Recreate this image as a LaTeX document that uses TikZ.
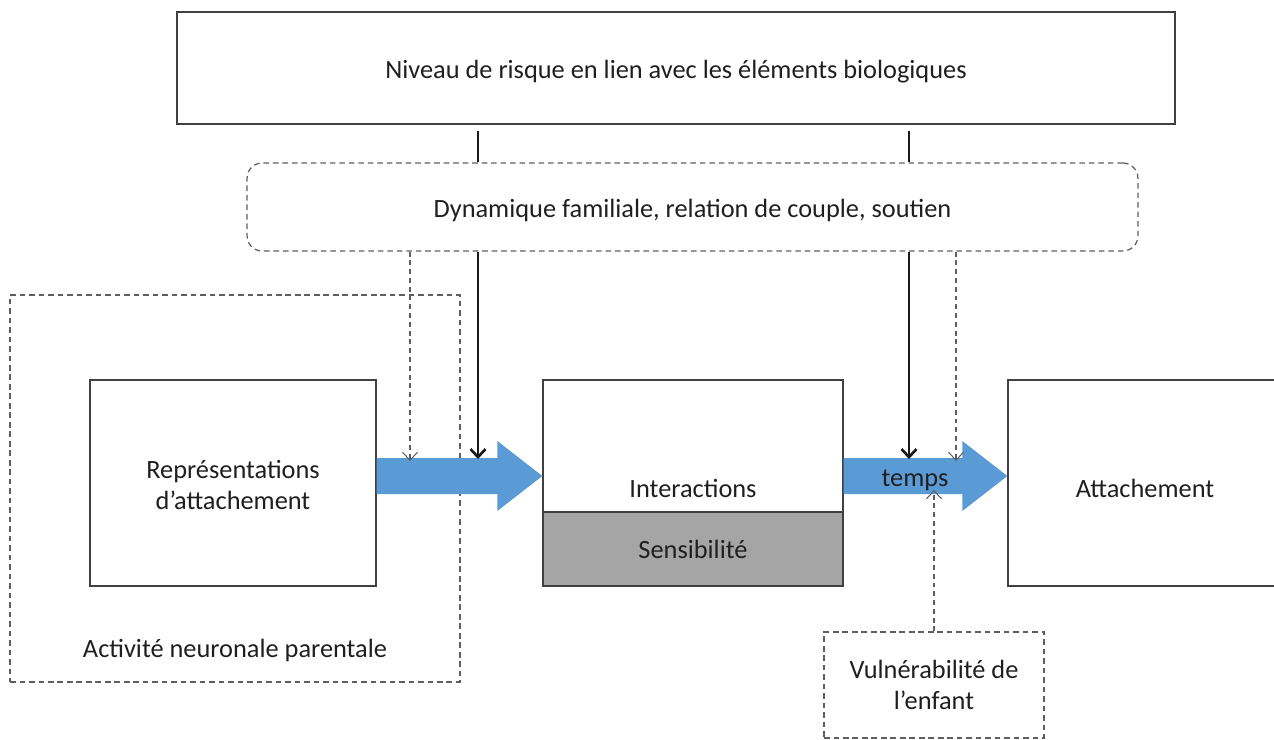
\documentclass[tikz,border=0pt]{standalone}
\usepackage{fontspec}
\setmainfont{Carlito}
\usetikzlibrary{arrows.meta,calc}

\definecolor{arrowblue}{RGB}{91,155,213}
\definecolor{boxgray}{RGB}{165,165,165}
\definecolor{edgegray}{RGB}{64,64,64}
\definecolor{dashgray}{RGB}{95,95,95}

% wide blue arrow from #1 to #2 (same height)
\newcommand{\blockarrow}[2]{%
  \fill[arrowblue] ($(#1)+(0,-18)$) -- ($(#2)+(-45,-18)$) -- ($(#2)+(-45,-35)$)
    -- (#2) -- ($(#2)+(-45,35)$) -- ($(#2)+(-45,18)$) -- ($(#1)+(0,18)$) -- cycle;}

\begin{document}
\begin{tikzpicture}[x=0.02cm,y=-0.02cm,
    every node/.style={font=\fontsize{15}{17.5}\selectfont, text=black!88},
    box/.style={draw=edgegray, line width=0.8pt, fill=white},
    dbox/.style={draw=dashgray, line width=0.7pt, dash pattern=on 3.2pt off 2.2pt},
    lowtext/.style={text height=16pt, text depth=3.5pt},
    link/.style={line width=1.5pt, black!90},
    dlink/.style={line width=0.6pt, dashgray, dash pattern=on 2.8pt off 2.2pt},
    >={Straight Barb[length=0.16cm, width=0.3cm]}]
  \useasboundingbox (0,0) rectangle (1274,740);
  \clip (0,0) rectangle (1274,740);

  % Boxes
  \node[box, lowtext, minimum width=19.96cm, minimum height=2.24cm] (risk) at (676,68)
    {Niveau de risque en lien avec les éléments biologiques};
  \node[dbox, lowtext, rounded corners=0.3cm, minimum width=17.82cm, minimum height=1.76cm] (fam) at (692.5,207)
    {Dynamique familiale, relation de couple, soutien};
  \node[dbox, minimum width=9cm, minimum height=7.74cm] (neuro) at (235,488.5) {};
  \node (neurotxt) at (235,650) {Activité neuronale parentale};
  \node[box, minimum width=5.72cm, minimum height=4.12cm] (rep) at (233,483) {};
  \node[align=center] (reptxt) at (233,485) {Représentations\\d’attachement};
  \node[box, minimum width=6cm, minimum height=4.12cm] (inter) at (693,483) {};
  \node (intertxt) at (693,488) {Interactions};
  \node[box, fill=boxgray, minimum width=6cm, minimum height=1.48cm] (sensi) at (693,549) {Sensibilité};
  \node[box, minimum width=5.48cm, minimum height=4.12cm] (att) at (1145,483) {};
  \node (atttxt) at (1145,488) {Attachement};
  \node[dbox, minimum width=4.4cm, minimum height=2.12cm, align=center] (vul) at (934,685)
    {Vulnérabilité de\\l’enfant};

  % Blue arrows
  \coordinate (a1s) at ($(rep.east)+(0,-7)$);
  \coordinate (a1e) at ($(inter.west)+(0,-7)$);
  \coordinate (a2s) at ($(inter.east)+(0,-7)$);
  \coordinate (a2e) at ($(att.west)+(0,-7)$);
  \blockarrow{a1s}{a1e}
  \blockarrow{a2s}{a2e}
  \node (tps) at (915,480) {temps};

  % Tips of the influences
  \coordinate (tl) at (478,459);
  \coordinate (tr) at (909,459);
  \coordinate (dl) at (410,461);
  \coordinate (dr) at (956,461);
  \coordinate (tv) at (934,490);

  % Influences
  \draw[link, shorten <=0.12cm] (risk.south -| tl) -- (fam.north -| tl);
  \draw[link, shorten <=0.12cm] (risk.south -| tr) -- (fam.north -| tr);
  \draw[link, ->] (fam.south -| tl) -- (tl);
  \draw[link, ->] (fam.south -| tr) -- (tr);
  \draw[dlink, ->] (fam.south -| dl) -- (dl);
  \draw[dlink, ->] (fam.south -| dr) -- (dr);
  \draw[dlink, ->] (vul.north) -- (tv);
\end{tikzpicture}
\end{document}
